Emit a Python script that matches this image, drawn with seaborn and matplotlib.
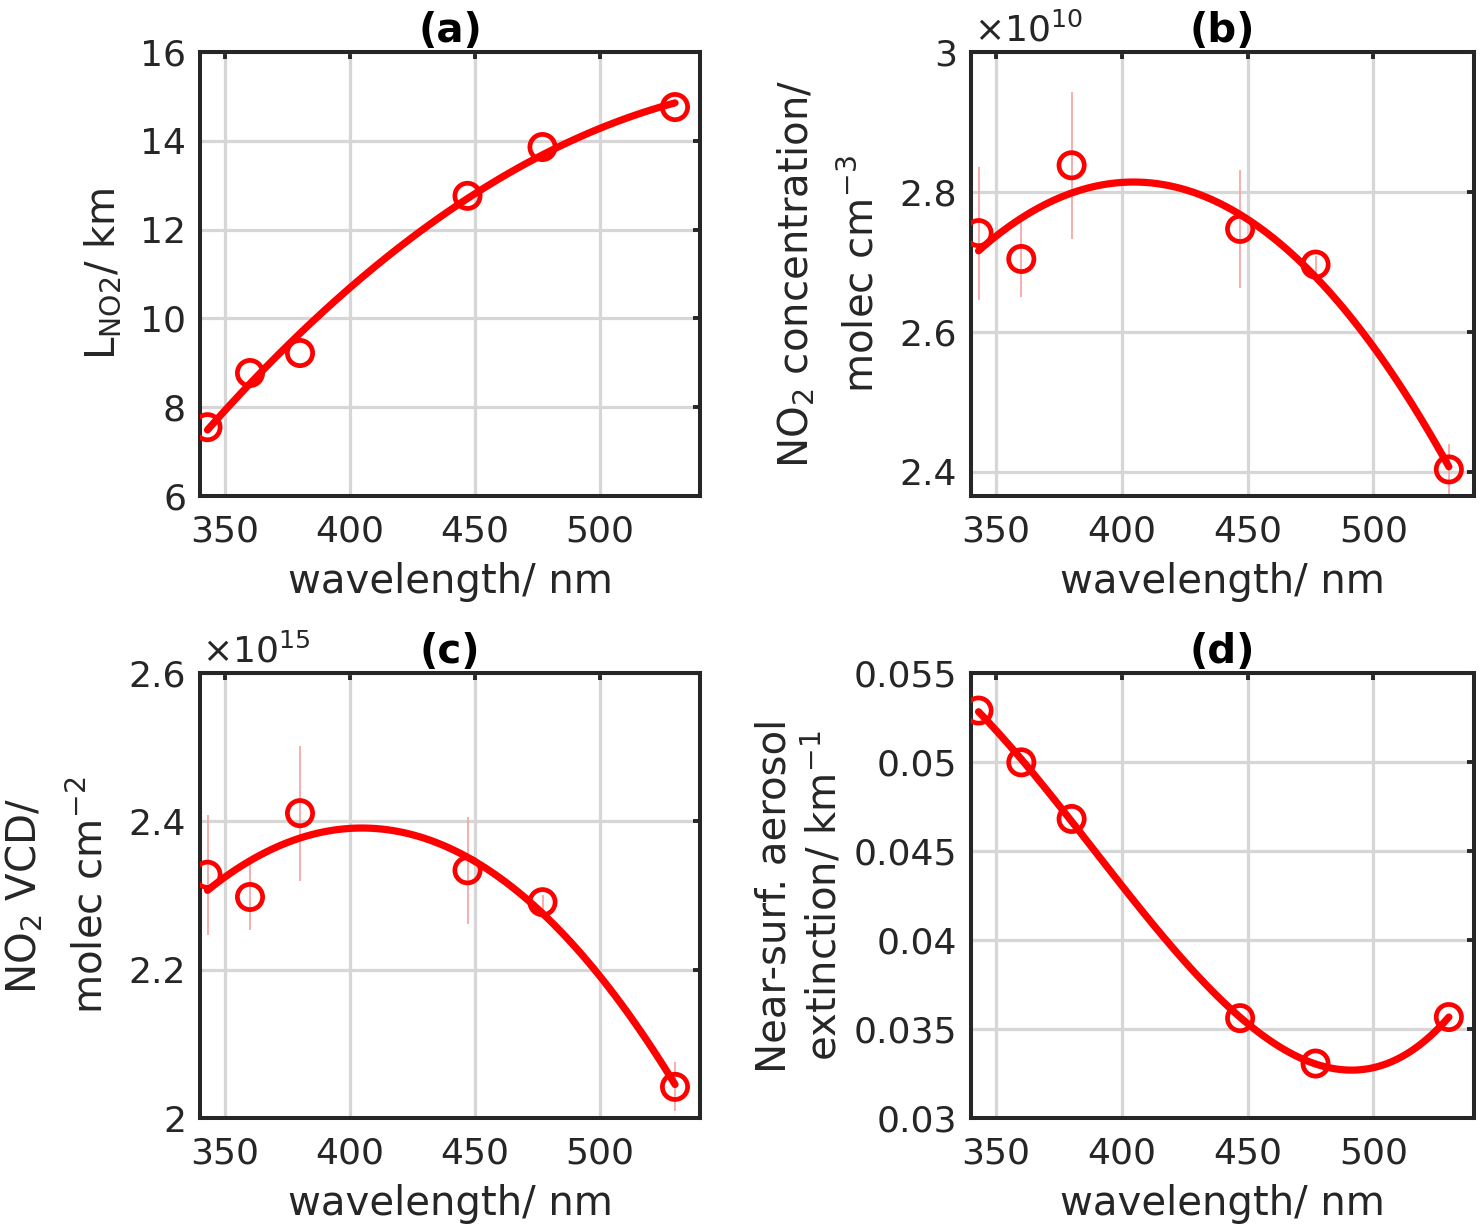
import numpy as np
import pandas as pd
import matplotlib
matplotlib.use("Agg")
import matplotlib.pyplot as plt
from matplotlib.ticker import FuncFormatter
import seaborn as sns

# wavelengths (nm)
wl = [343, 360, 380, 447, 477, 530]

# (a) NO2 layer height / km
l_no2 = [7.55, 8.77, 9.22, 12.76, 13.86, 14.76]
# (b) NO2 concentration / molec cm-3
no2_conc = [2.741e10, 2.704e10, 2.838e10, 2.747e10, 2.696e10, 2.403e10]
no2_conc_err = [0.095e10, 0.054e10, 0.105e10, 0.084e10, 0.012e10, 0.036e10]
# (c) NO2 VCD / molec cm-2
no2_vcd = [2.328e15, 2.298e15, 2.411e15, 2.334e15, 2.291e15, 2.042e15]
no2_vcd_err = [0.081e15, 0.045e15, 0.091e15, 0.072e15, 0.010e15, 0.033e15]
# (d) near-surface aerosol extinction / km-1
ext = [0.05289, 0.04998, 0.04680, 0.03561, 0.03306, 0.03567]

x_ticks = [350, 400, 450, 500]
yticks_a = [6, 8, 10, 12, 14, 16]
yticks_b = [2.4e10, 2.6e10, 2.8e10, 3.0e10]
yticks_c = [2.0e15, 2.2e15, 2.4e15, 2.6e15]
yticks_d = [0.03, 0.035, 0.04, 0.045, 0.05, 0.055]

sns.set_theme(style="white")
plt.rcParams["font.family"] = ["DejaVu Sans"]
plt.rcParams["mathtext.default"] = "regular"

RED = "#ff0000"
ERR = "#f7a0a0"
TXT = "#262626"

fig = plt.figure(figsize=(14.8, 12.32), dpi=100)

pos = {
    "a": [200 / 1480, 1 - 496 / 1232, 500 / 1480, 444 / 1232],
    "b": [971 / 1480, 1 - 496 / 1232, 503 / 1480, 444 / 1232],
    "c": [200 / 1480, 1 - 1118 / 1232, 500 / 1480, 445 / 1232],
    "d": [971 / 1480, 1 - 1118 / 1232, 503 / 1480, 445 / 1232],
}


def panel(key, y, yerr, order, yticks, ylim, ylabel, scale=None, lsp=1.15, lpad=12):
    ax = fig.add_axes(pos[key])
    df = pd.DataFrame({"wl": wl, "y": y})
    ax.grid(True, color="#d6d6d6", lw=2.3, zorder=0)
    ax.set_axisbelow(True)
    if yerr is not None:
        ax.errorbar(wl, y, yerr=yerr, fmt="none", ecolor=ERR, elinewidth=1.2, zorder=2)
    sns.regplot(data=df, x="wl", y="y", order=order, ci=None, scatter=False,
                ax=ax, line_kws=dict(color=RED, lw=5.2, zorder=3))
    sns.scatterplot(data=df, x="wl", y="y", ax=ax, marker="o", s=330,
                    facecolor="none", edgecolor=RED, linewidth=3.4, zorder=4)
    ax.set_xlim(340, 540)
    ax.set_ylim(*ylim)
    ax.set_xticks(x_ticks)
    ax.set_yticks(yticks)
    if scale is None:
        ax.yaxis.set_major_formatter(FuncFormatter(lambda v, _: f"{v:g}"))
    else:
        ax.yaxis.set_major_formatter(FuncFormatter(lambda v, _: f"{v / 10**scale:g}"))
        ax.text(0.005, 1.008, r"$\times10^{%d}$" % scale, transform=ax.transAxes,
                ha="left", va="bottom", fontsize=26, color=TXT)
    ax.tick_params(direction="in", length=5, width=2.8, top=True, right=True,
                   labelsize=26, colors=TXT)
    ax.tick_params(axis="x", pad=13)
    ax.tick_params(axis="y", pad=10)
    for s in ax.spines.values():
        s.set_linewidth(2.9)
        s.set_color(TXT)
    ax.set_xlabel("wavelength/ nm", fontsize=29, color=TXT, labelpad=10)
    ax.set_ylabel(ylabel, fontsize=29, color=TXT, labelpad=lpad, linespacing=lsp)
    ax.set_title(f"({key})", fontsize=29, fontweight="bold", color="black", pad=7)
    return ax


panel("a", l_no2, None, 2, yticks_a, (6, 16), r"L$_{\mathrm{NO2}}$/ km")
panel("b", no2_conc, no2_conc_err, 2, yticks_b, (2.365e10, 3.0e10),
      "NO$_2$ concentration/\nmolec cm$^{-3}$", scale=10, lsp=1.75)
panel("c", no2_vcd, no2_vcd_err, 2, yticks_c, (2.0e15, 2.6e15),
      "NO$_2$ VCD/\nmolec cm$^{-2}$", scale=15, lsp=1.8)
panel("d", ext, None, 3, yticks_d, (0.03, 0.055),
      "Near-surf. aerosol\nextinction/ km$^{-1}$", lsp=1.2, lpad=6)

fig.savefig("out.png", dpi=100, facecolor="white")
